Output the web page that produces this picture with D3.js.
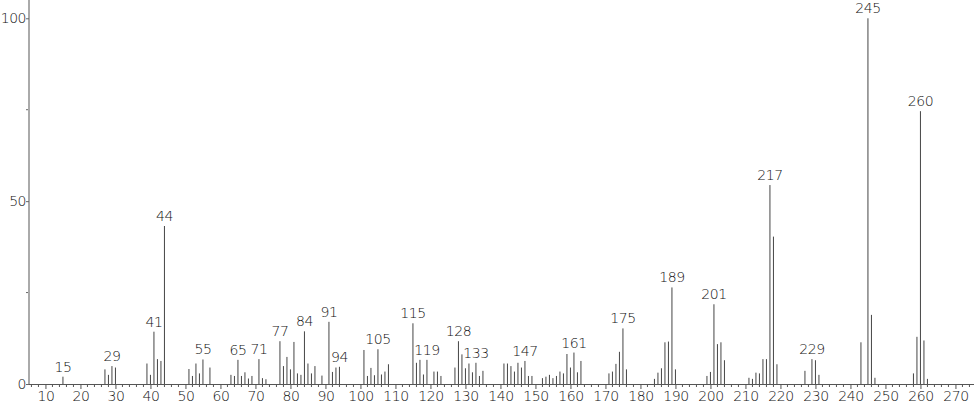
<!DOCTYPE html>
<html><head><meta charset="utf-8">
<script src="https://cdn.jsdelivr.net/npm/d3@7"></script>
<style>
html,body{margin:0;padding:0;background:#fff;}
svg text{font-family:"DejaVu Sans","Lato",sans-serif;font-weight:200;letter-spacing:-0.5px;}
</style></head>
<body><svg id="c" width="974" height="406"></svg>
<script>
const mz = [15,27,28,29,30,39,40,41,42,43,44,51,52,53,54,55,57,63,64,65,66,67,68,69,71,72,73,
77,78,79,80,81,82,83,84,85,86,87,89,91,92,93,94,101,102,103,104,105,106,107,108,
115,116,117,118,119,121,122,123,127,128,129,130,131,132,133,134,135,
141,142,143,144,145,146,147,148,149,152,153,154,155,156,157,158,159,160,161,162,163,
171,172,173,174,175,176,184,185,186,187,188,189,190,199,200,201,202,203,204,
211,212,213,214,215,216,217,218,219,227,229,230,231,243,245,246,247,258,259,260,261,262];
const intensity = [2.0,4.0,2.5,4.9,4.5,5.6,2.5,14.3,6.8,6.3,43.2,4.1,2.2,5.6,2.9,6.7,4.5,2.5,2.2,6.6,2.2,3.2,1.5,2.2,6.8,1.6,1.3,
11.7,4.9,7.4,4.0,11.5,2.9,2.5,14.4,5.6,2.9,4.9,2.3,17.0,3.3,4.5,4.7,9.3,2.2,4.4,2.4,9.5,2.6,3.4,5.4,
16.6,5.8,6.6,2.6,6.6,3.4,3.4,2.2,4.5,11.7,8.1,4.3,5.6,3.2,5.8,2.2,3.6,
5.6,5.6,4.9,3.4,5.8,4.5,6.3,2.2,2.2,1.6,2.0,2.5,1.6,2.2,3.4,2.9,8.2,4.5,8.6,3.2,6.3,
2.9,3.4,5.5,8.8,15.2,4.0,1.4,3.1,4.3,11.4,11.6,26.4,4.0,2.2,3.3,21.8,10.9,11.4,6.5,
1.7,1.4,3.1,2.9,6.8,6.8,54.4,40.3,5.4,3.6,6.8,6.5,2.5,11.4,100,18.9,1.7,2.9,12.9,74.6,11.9,1.4];
const labeled = [15,29,41,44,55,65,71,77,84,91,94,105,115,119,128,133,147,161,175,189,201,217,229,245,260];
const xTicks = [10,20,30,40,50,60,70,80,90,100,110,120,130,140,150,160,170,180,190,200,210,220,230,240,250,260,270];
const yTicks = [0,50,100];

const svg = d3.select("#c");
const x = d3.scaleLinear().domain([5.3,275.3]).range([29,974]);
const y = d3.scaleLinear().domain([0,105]).range([384,0]);

const minor = d3.range(6,276,2).filter(v=>v%10!==0);
svg.append("g").selectAll("line").data(minor).join("line")
  .attr("x1",d=>x(d)).attr("x2",d=>x(d)).attr("y1",384).attr("y2",387)
  .attr("stroke","#555").attr("stroke-width",1);

const xa = svg.append("g").attr("transform","translate(0,384)")
  .call(d3.axisBottom(x).tickValues(xTicks).tickSize(5).tickPadding(2).tickFormat(d3.format("d")));
xa.select(".domain").attr("stroke","#555").attr("stroke-width",1).attr("d","M29,0.5H974");
xa.selectAll(".tick line").attr("stroke","#555");
xa.selectAll("text").attr("font-size",14).attr("fill","#111");

svg.append("g").selectAll("line").data([25,75]).join("line")
  .attr("x1",26).attr("x2",29).attr("y1",d=>y(d)).attr("y2",d=>y(d))
  .attr("stroke","#666");

const ya = svg.append("g").attr("transform","translate(29,0)")
  .call(d3.axisLeft(y).tickValues(yTicks).tickSize(3).tickPadding(0).tickFormat(d3.format("d")));
ya.select(".domain").attr("stroke","#aaa").attr("stroke-width",2).attr("d","M0,0V384");
ya.selectAll(".tick line").attr("stroke","#666");
ya.selectAll("text").attr("font-size",14).attr("fill","#111");

const data = mz.map((m,i)=>({m, v:intensity[i]}));
svg.append("g").selectAll("line").data(data).join("line")
  .attr("x1",d=>x(d.m)).attr("x2",d=>x(d.m))
  .attr("y1",y(0)).attr("y2",d=>y(d.v))
  .attr("stroke","#444").attr("stroke-width",1);

svg.append("g").selectAll("text").data(data.filter(d=>labeled.includes(d.m))).join("text")
  .attr("x",d=>x(d.m)).attr("y",d=>y(d.v)-5)
  .attr("text-anchor","middle").attr("font-size",14).attr("fill","#111")
  .text(d=>d.m);
</script></body></html>
